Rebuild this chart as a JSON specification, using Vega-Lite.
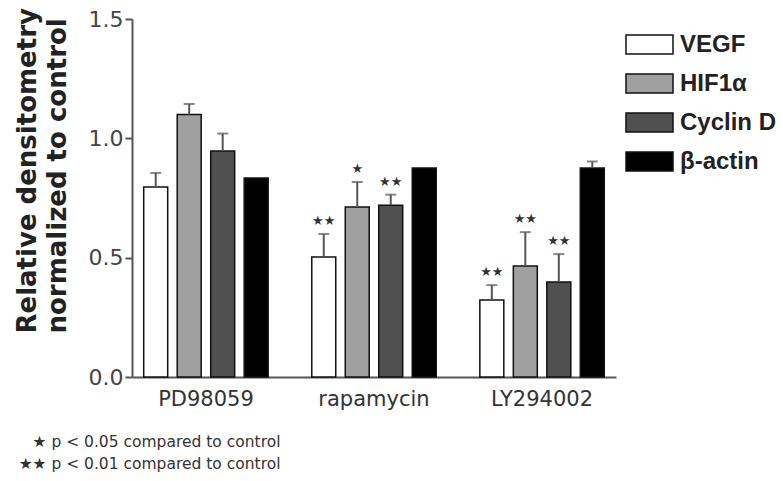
{
  "$schema": "https://vega.github.io/schema/vega-lite/v6.json",
  "autosize": {"type": "none"},
  "width": 484,
  "height": 358,
  "padding": {"left": 132, "top": 19, "right": 167, "bottom": 104},
  "background": "white",
  "config": {
    "view": {"stroke": null},
    "font": "DejaVu Sans"
  },
  "data": {
    "values": [
      {"group": "PD98059", "gene": "VEGF", "value": 0.796, "upper": 0.855, "sig": ""},
      {"group": "PD98059", "gene": "HIF1α", "value": 1.10, "upper": 1.144, "sig": ""},
      {"group": "PD98059", "gene": "Cyclin D", "value": 0.947, "upper": 1.02, "sig": ""},
      {"group": "PD98059", "gene": "β-actin", "value": 0.834, "upper": null, "sig": ""},
      {"group": "rapamycin", "gene": "VEGF", "value": 0.503, "upper": 0.599, "sig": "★★"},
      {"group": "rapamycin", "gene": "HIF1α", "value": 0.712, "upper": 0.817, "sig": "★"},
      {"group": "rapamycin", "gene": "Cyclin D", "value": 0.72, "upper": 0.764, "sig": "★★"},
      {"group": "rapamycin", "gene": "β-actin", "value": 0.876, "upper": null, "sig": ""},
      {"group": "LY294002", "gene": "VEGF", "value": 0.323, "upper": 0.385, "sig": "★★"},
      {"group": "LY294002", "gene": "HIF1α", "value": 0.465, "upper": 0.607, "sig": "★★"},
      {"group": "LY294002", "gene": "Cyclin D", "value": 0.398, "upper": 0.515, "sig": "★★"},
      {"group": "LY294002", "gene": "β-actin", "value": 0.876, "upper": 0.903, "sig": ""}
    ]
  },
  "encoding": {
    "x": {
      "field": "group", "type": "nominal",
      "sort": ["PD98059", "rapamycin", "LY294002"],
      "scale": {"paddingInner": 0.12, "paddingOuter": 0},
      "axis": {
        "title": ["★ p < 0.05 compared to control", "★★ p < 0.01 compared to control"],
        "titleFont": "DejaVu Sans", "titleFontSize": 15.5, "titleFontWeight": "normal",
        "titleColor": "#333", "titleAlign": "right", "titleBaseline": "middle",
        "titleX": 148, "titleY": 64, "titleLineHeight": 22, "titleAngle": 0,
        "labelAngle": 0, "labelFont": "DejaVu Sans", "labelFontSize": 21, "labelColor": "#333",
        "labelPadding": 11, "labelBaseline": "top",
        "ticks": false, "tickSize": 0,
        "domainColor": "#555", "domainWidth": 2, "grid": false
      }
    },
    "xOffset": {
      "field": "gene", "type": "nominal",
      "sort": ["VEGF", "HIF1α", "Cyclin D", "β-actin"],
      "scale": {"paddingInner": 0.284, "paddingOuter": 0.35}
    }
  },
  "layer": [
    {
      "mark": {"type": "bar", "stroke": "#111", "strokeWidth": 1.5},
      "encoding": {
        "y": {
          "field": "value", "type": "quantitative",
          "scale": {"domain": [0, 1.5], "nice": false},
          "axis": {
            "values": [0, 0.5, 1, 1.5], "format": ".1f",
            "title": ["Relative densitometry", "normalized to control"],
            "titleFont": "DejaVu Sans", "titleFontSize": 26, "titleFontWeight": "bold",
            "titleColor": "#222", "titleAngle": 270, "titleAlign": "left", "titleBaseline": "middle",
            "titleX": -105, "titleY": 314, "titleLineHeight": 30,
            "labelFont": "DejaVu Sans", "labelFontSize": 22, "labelColor": "#444",
            "labelPadding": 2, "tickSize": 7, "tickColor": "#555", "tickWidth": 2,
            "domainColor": "#555", "domainWidth": 2, "grid": false
          }
        },
        "fill": {
          "field": "gene", "type": "nominal",
          "sort": ["VEGF", "HIF1α", "Cyclin D", "β-actin"],
          "scale": {"domain": ["VEGF", "HIF1α", "Cyclin D", "β-actin"], "range": ["#ffffff", "#a0a0a0", "#505050", "#000000"]},
          "legend": {
            "title": null, "orient": "none", "legendX": 493, "legendY": 1,
            "symbolType": "M-1,-0.4H1V0.4H-1Z", "symbolSize": 2209,
            "symbolStrokeColor": "#111", "symbolStrokeWidth": 1.5, "symbolOpacity": 1,
            "labelFont": "Liberation Sans", "labelFontSize": 24, "labelFontWeight": "bold",
            "labelColor": "#222", "labelOffset": 6, "rowPadding": 2
          }
        }
      }
    },
    {
      "transform": [{"filter": "datum.upper != null"}],
      "mark": {"type": "rule", "color": "#555", "strokeWidth": 2},
      "encoding": {
        "y": {"field": "value", "type": "quantitative"},
        "y2": {"field": "upper"}
      }
    },
    {
      "transform": [{"filter": "datum.upper != null"}],
      "mark": {"type": "tick", "color": "#555", "thickness": 2, "size": 11, "orient": "horizontal"},
      "encoding": {
        "y": {"field": "upper", "type": "quantitative"}
      }
    },
    {
      "transform": [{"filter": "datum.sig != ''"}],
      "mark": {"type": "text", "font": "DejaVu Sans", "fontSize": 13, "color": "#333", "baseline": "middle", "dy": -13},
      "encoding": {
        "y": {"field": "upper", "type": "quantitative"},
        "text": {"field": "sig"}
      }
    }
  ]
}
